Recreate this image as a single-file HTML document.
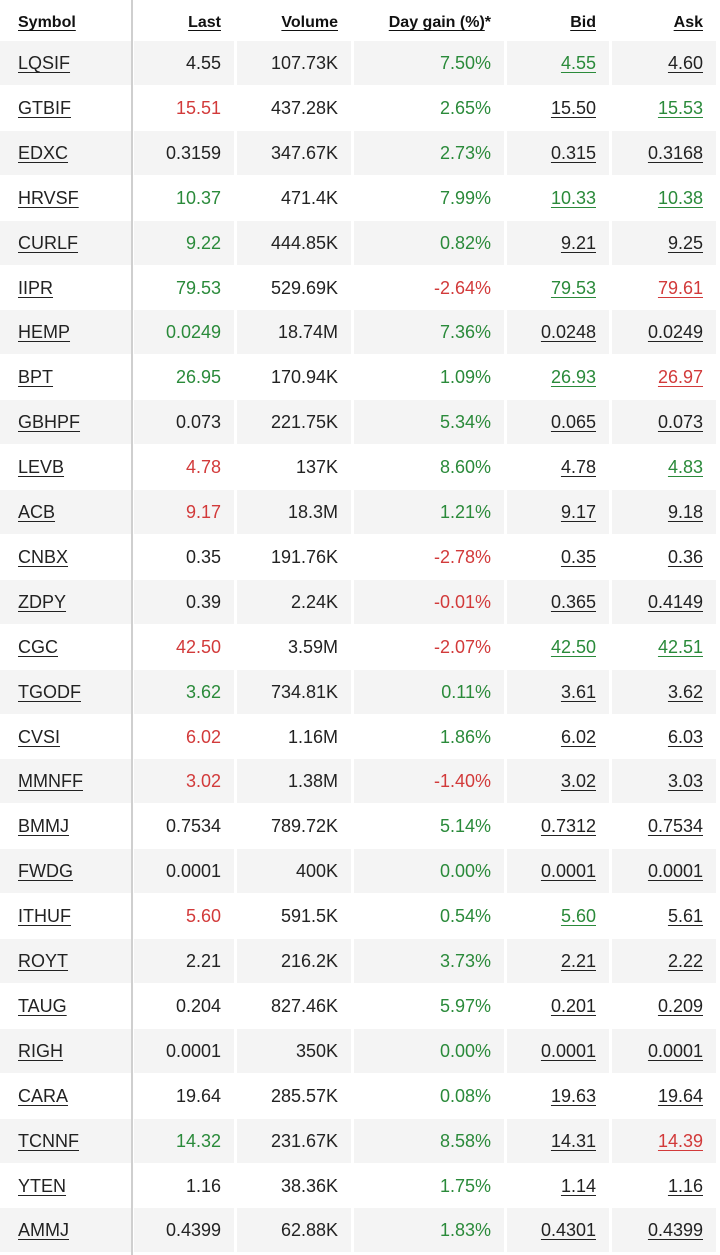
<!DOCTYPE html>
<html><head><meta charset="utf-8"><style>
html,body{margin:0;padding:0;background:#fff;}
body{width:720px;height:1255px;overflow:hidden;position:relative;font-family:"Liberation Sans",Arial,sans-serif;color:#222;}
.vl{position:absolute;left:131px;top:0;width:2px;height:1255px;background:#cfcfcf;}
.hd,.r{position:absolute;left:0;width:720px;height:45px;}
.hd{top:0;height:40px;}
.c{position:absolute;top:1px;height:44px;line-height:44px;font-size:18px;text-align:right;box-sizing:border-box;padding-right:13px;}
.r.g .c{background:#f4f4f4;}
.c0{left:0;width:131px;text-align:left;padding-left:18px;}
.c1{left:134px;width:100px;}
.c2{left:237px;width:114px;}
.c3{left:354px;width:150px;}
.c4{left:507px;width:102px;}
.c5{left:612px;width:104px;}
.hd .c{top:0;height:36px;line-height:34px;padding-top:6px;font-size:16px;font-weight:bold;color:#111;}
.hd .c span,.u{text-decoration:underline;text-underline-offset:3px;}
.G{color:#2a8a3a}.R{color:#d23a3a}
</style></head><body>
<div class="hd"><div class="c c0"><span>Symbol</span></div><div class="c c1"><span>Last</span></div><div class="c c2"><span>Volume</span></div><div class="c c3"><span>Day gain (%)</span>*</div><div class="c c4"><span>Bid</span></div><div class="c c5"><span>Ask</span></div></div>
<div id="t"></div>
<div class="vl"></div>
<script>
var d=[
["LQSIF","4.55","","107.73K","7.50%","G","4.55","G","4.60",""],
["GTBIF","15.51","R","437.28K","2.65%","G","15.50","","15.53","G"],
["EDXC","0.3159","","347.67K","2.73%","G","0.315","","0.3168",""],
["HRVSF","10.37","G","471.4K","7.99%","G","10.33","G","10.38","G"],
["CURLF","9.22","G","444.85K","0.82%","G","9.21","","9.25",""],
["IIPR","79.53","G","529.69K","-2.64%","R","79.53","G","79.61","R"],
["HEMP","0.0249","G","18.74M","7.36%","G","0.0248","","0.0249",""],
["BPT","26.95","G","170.94K","1.09%","G","26.93","G","26.97","R"],
["GBHPF","0.073","","221.75K","5.34%","G","0.065","","0.073",""],
["LEVB","4.78","R","137K","8.60%","G","4.78","","4.83","G"],
["ACB","9.17","R","18.3M","1.21%","G","9.17","","9.18",""],
["CNBX","0.35","","191.76K","-2.78%","R","0.35","","0.36",""],
["ZDPY","0.39","","2.24K","-0.01%","R","0.365","","0.4149",""],
["CGC","42.50","R","3.59M","-2.07%","R","42.50","G","42.51","G"],
["TGODF","3.62","G","734.81K","0.11%","G","3.61","","3.62",""],
["CVSI","6.02","R","1.16M","1.86%","G","6.02","","6.03",""],
["MMNFF","3.02","R","1.38M","-1.40%","R","3.02","","3.03",""],
["BMMJ","0.7534","","789.72K","5.14%","G","0.7312","","0.7534",""],
["FWDG","0.0001","","400K","0.00%","G","0.0001","","0.0001",""],
["ITHUF","5.60","R","591.5K","0.54%","G","5.60","G","5.61",""],
["ROYT","2.21","","216.2K","3.73%","G","2.21","","2.22",""],
["TAUG","0.204","","827.46K","5.97%","G","0.201","","0.209",""],
["RIGH","0.0001","","350K","0.00%","G","0.0001","","0.0001",""],
["CARA","19.64","","285.57K","0.08%","G","19.63","","19.64",""],
["TCNNF","14.32","G","231.67K","8.58%","G","14.31","","14.39","R"],
["YTEN","1.16","","38.36K","1.75%","G","1.14","","1.16",""],
["AMMJ","0.4399","","62.88K","1.83%","G","0.4301","","0.4399",""]];
var h="";
d.forEach(function(r,i){
h+='<div class="r'+(i%2==0?' g':'')+'" style="top:'+(40+i*44.9)+'px">'+
'<div class="c c0"><span class="u">'+r[0]+'</span></div>'+
'<div class="c c1 '+r[2]+'">'+r[1]+'</div>'+
'<div class="c c2">'+r[3]+'</div>'+
'<div class="c c3 '+r[5]+'">'+r[4]+'</div>'+
'<div class="c c4"><span class="u '+r[7]+'">'+r[6]+'</span></div>'+
'<div class="c c5"><span class="u '+r[9]+'">'+r[8]+'</span></div></div>';
});
document.getElementById("t").innerHTML=h;
</script>
</body></html>
